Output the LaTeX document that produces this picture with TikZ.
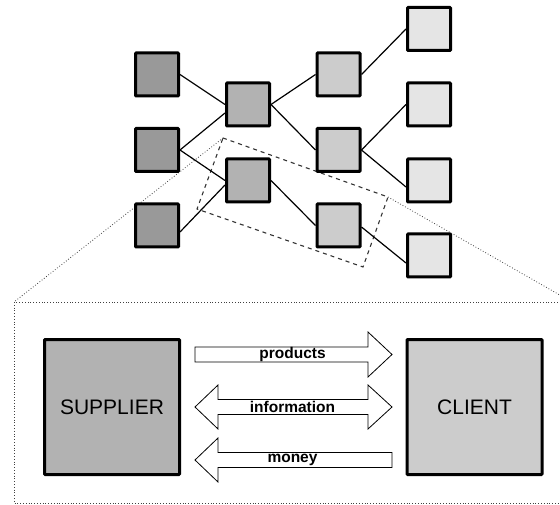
\documentclass[tikz,border=0pt]{standalone}
\usepackage{fontspec}
\setmainfont{Liberation Sans}
\usepackage{tikz}
\definecolor{tieronec}{RGB}{153,153,153}
\definecolor{tiertwoc}{RGB}{178,178,178}
\definecolor{tierthreec}{RGB}{204,204,204}
\definecolor{tierfourc}{RGB}{229,229,229}
\tikzset{
  firm/.style={draw=black,line width=3pt,minimum size=43pt,inner sep=0pt,rounded corners=0.8pt},
  partner/.style={draw=black,line width=3pt,minimum width=135pt,minimum height=135pt,inner sep=0pt,rounded corners=0.8pt,font=\fontsize{21}{24}\selectfont},
  link/.style={line width=1.2pt},
  flow/.style={draw=black,fill=white,line width=0.8pt},
  flowlab/.style={font=\fontsize{15.5}{17}\selectfont\bfseries,inner sep=0pt},
  zoomline/.style={dotted,line width=0.8pt,black!75}
}

\begin{document}
\begin{tikzpicture}[x=1pt,y=-1pt]
\useasboundingbox (0,0) rectangle (560,505);
\clip (0,0) rectangle (560,505);
% zoom frame (behind everything)
\coordinate (zl) at (223,138);
\coordinate (zr) at (388,197);
\coordinate (fl) at (14,302);
\coordinate (fr) at (572,302);
\draw[zoomline] (zl) -- (fl);
\draw[zoomline] (zr) -- (fr);
\draw[zoomline] (fl) rectangle (572,503);
% selected pair
\draw[dashed,line width=1.1pt,black!80,dash pattern=on 4pt off 4pt] (zl) -- (zr) -- (363,267) -- (197,209) -- cycle;
% network tiers
\foreach \n/\y in {1/74.5,2/150,3/225.5}
  \node[firm,fill=tieronec] (a\n) at (157,\y) {};
\foreach \n/\y in {1/104.5,2/180.5}
  \node[firm,fill=tiertwoc] (b\n) at (248,\y) {};
\foreach \n/\y in {1/74.5,2/150,3/225.5}
  \node[firm,fill=tierthreec] (c\n) at (338.5,\y) {};
\foreach \n/\y in {1/29,2/104.5,3/180.5,4/255.5}
  \node[firm,fill=tierfourc] (d\n) at (429,\y) {};
% links
\draw[link] (a1.east) -- (b1.west);
\draw[link] (a2.east) -- ([yshift=-8.5pt]b1.west);
\draw[link] (a2.east) -- (b2.west);
\draw[link] ([yshift=-6.5pt]a3.east) -- ([yshift=-4.5pt]b2.west);
\draw[link] (b1.east) -- (c1.west);
\draw[link] (b1.east) -- (c2.west);
\draw[link] (b2.east) -- (c3.west);
\draw[link] (c1.east) -- (d1.west);
\draw[link] (c2.east) -- (d2.west);
\draw[link] (c2.east) -- ([yshift=-6.5pt]d3.west);
\draw[link] ([yshift=-1.5pt]c3.east) -- ([yshift=-7.5pt]d4.west);
% supplier and client
\node[partner,fill=tiertwoc] (sup) at (112,407) {SUPPLIER};
\node[partner,fill=tierthreec] (cli) at (474.5,407) {CLIENT};
% flows
\draw[flow] (195,347) -- (368,347) -- (368,332) -- (392,354.5) -- (368,377) -- (368,362) -- (195,362) -- cycle;
\draw[flow] (195,407) -- (218,385) -- (218,399.5) -- (368,399.5) -- (368,385) -- (392,407)
  -- (368,429) -- (368,414.5) -- (218,414.5) -- (218,429) -- cycle;
\draw[flow] (195,460) -- (218,438) -- (218,452.5) -- (392,452.5) -- (392,467.5) -- (218,467.5) -- (218,482) -- cycle;
\node[flowlab] (lprod) at (292.5,354.5) {products};
\node[flowlab] (linfo) at (292.5,407) {information};
\node[flowlab] (lmoney) at (292.5,459.5) {money};
\end{tikzpicture}
\end{document}
